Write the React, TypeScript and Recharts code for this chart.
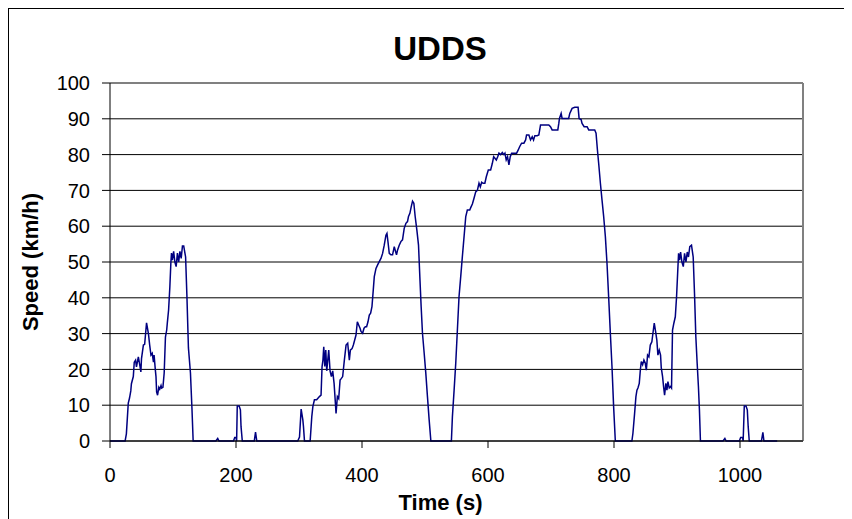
import React from 'react';
import { LineChart, Line, XAxis, YAxis, CartesianGrid, ReferenceLine } from 'recharts';

const timeSec: number[] = [
  0, 24, 26, 29, 31, 33, 34, 37, 38.5, 40.6, 42, 45, 47.5, 49, 50, 53, 55, 58, 61, 63, 65, 67, 69, 70, 72, 73, 74, 75.5, 77.5, 79, 81, 82, 84, 86, 88, 90, 91, 93, 95, 96.6, 97.6, 99, 101, 103, 105, 107, 109, 111, 113, 115, 117, 120, 122, 124.5, 127.7, 130, 132,
  168, 171, 173, 196, 198, 200, 201, 202, 205, 207, 208, 210, 229, 231, 233, 298, 300.8, 303.4, 306.1, 307.1, 308.7, 314,
  317.7, 320.3, 322, 324.5, 328, 332.4, 335, 336.6, 338, 339.3, 340.9, 342.5, 344, 347.2, 349.3, 351.4, 353.5, 355.7, 357.8, 358.8, 360.9, 363, 365.2, 367.3, 369.3, 372, 374.7, 377.3, 379.9, 381.5, 384.2, 386.3, 388.4, 390.5, 392.6, 394.7, 396.9, 398.4, 401, 403.2, 405.3, 407.3, 409.5, 411.6, 413.7, 415.8, 417.9, 419.5, 422.2, 424.8, 427.4, 430.1, 432.7, 435.3, 438, 439.6, 441.2, 443.3, 445.9, 448.5, 451.2, 452.7, 454.8, 456.4, 459.1, 461.7, 464.3, 467, 469.7, 472.2, 473.8, 476, 478.1, 480.2, 482.3, 484.4, 487.1, 489.7, 491.8, 493.9, 496, 498.7, 501.3, 503.9, 506.6, 509.3,
  541.9, 543.5, 546.2, 548.8, 551.4, 554, 556.7, 559.3, 562, 564.7, 567.2, 571, 573.1, 575.2, 577.8, 580.5, 583.1, 585.7, 587.8, 590, 592.1, 595, 597.3, 600.5, 604.2, 606.8, 609, 611, 613.2, 615.4, 617.4, 620, 622.7, 625.3, 626.9, 628.9, 631, 633.2, 635.3, 637.5, 641, 645.4, 648, 650.2, 653.3, 657, 659.7, 661.2, 664.9, 667.5, 670.2, 672.3, 674.4, 678, 680.7, 683.4, 687, 691.3, 696.5, 699.2, 701.8, 707.1, 710.8, 712.4, 713.4, 716.1, 717.6, 720.3, 725.6, 728, 729.8, 733.5, 737.7, 743, 744.6, 747.8, 749.3, 752.6, 757.3, 759.9, 769.4, 771.5, 773.7, 775.7, 778.4, 781, 783.6, 786.3, 788.9, 791.5, 794.2, 796.8, 799.4, 802.1,
  828.4, 830, 832.7, 834.8, 836.4, 838, 840.1, 841.8, 843.3, 845.4, 847.5, 849.7, 851.3, 853.3, 855.4, 857.6, 860.1, 861.8, 863.9, 866, 868, 869.7, 871.8, 873.9, 875, 877.1, 878.7, 880.3, 882.3, 884, 885.6, 887.7, 889.8, 891.3, 892.9, 895, 897.3, 899.3, 901, 902.5, 904.1, 905.7, 907.8, 910, 912, 914.2, 916.3, 918.2, 920.3, 923, 925.7, 927.8, 929.9, 932, 934, 935.6, 937.2,
  973, 976, 978, 999, 1001, 1004, 1005, 1006.8, 1009.5, 1011.6, 1013, 1014.7, 1034, 1036.3, 1038, 1059,
];

const speedKmh: number[] = [
  0, 0, 2, 10.6, 12, 14, 16, 18, 22, 22.6, 20.7, 23.5, 21, 19.3, 23, 26.8, 27, 33, 30, 26.8, 24, 24.5, 22, 24, 19.8, 18, 13.7, 12.8, 15, 14.5, 15.5, 14.8, 15, 19, 29, 31, 33, 36.6, 43, 49.7, 52.5, 50.5, 53, 50, 48.7, 52.5, 50, 53, 51, 54.5, 54.5, 51.4, 41, 26, 19, 9.5, 0,
  0, 0.7, 0, 0, 1, 1, 0, 9.8, 9.8, 8.7, 4, 0, 0, 2.5, 0, 0, 1.1, 8.9, 5.9, 4, 0, 0,
  0, 6.8, 9.6, 11.5, 11.5, 12.4, 12.8, 20.8, 22.6, 26.3, 20.8, 25.4, 19.6, 25.4, 19.6, 18, 19.6, 16.1, 10.5, 7.7, 12.4, 11.8, 17, 17.5, 18, 22.6, 26.8, 27.3, 22.6, 25.4, 25.8, 26.8, 28.2, 29.6, 33.3, 32.4, 31.5, 30.6, 30.1, 31.5, 31.9, 31.9, 33.3, 35.2, 35.7, 37.5, 42.2, 45.9, 48.2, 49.2, 50.1, 51, 52.4, 54.7, 57.5, 58, 55.7, 52.4, 52, 52, 54.3, 53.3, 52, 53.3, 54.7, 55.7, 56.2, 59.4, 60.8, 61.3, 62.7, 63.6, 65.4, 67, 66.4, 62.7, 58.9, 54.7, 45.9, 37.5, 30.1, 24.5, 18.9, 12.4, 5.9, 0,
  0, 6.8, 14.2, 21.7, 31, 40.3, 45.9, 51.5, 57.1, 62.7, 64.5, 64.5, 65.4, 66.2, 67.8, 69.6, 70, 72, 71, 72.3, 72, 72, 73.8, 75.7, 75.7, 77.5, 79.4, 79, 78.5, 79.4, 80.4, 80, 80.6, 80, 80.4, 78.5, 79.4, 77.1, 79.4, 80.4, 80.4, 80.4, 81.3, 82.2, 83.2, 83.2, 84.1, 85.5, 85.5, 84.1, 85, 84.1, 85.3, 85.3, 85.5, 88.3, 88.3, 88.3, 88.3, 87.8, 86.9, 86.9, 86.9, 88.7, 90.1, 91.5, 90.1, 90.1, 90.1, 90.1, 91.5, 92.9, 93.2, 93.2, 90.1, 89.8, 88.7, 87.8, 87.8, 86.9, 86.9, 86, 81.3, 77.5, 72, 67.3, 62.7, 57.1, 49.6, 40.3, 30.1, 20.8, 9.6, 0,
  0, 2.1, 7.7, 12.4, 14.2, 14.8, 16.1, 19.8, 22.2, 21.3, 22.6, 21.7, 19.8, 24, 23.5, 26.8, 27.7, 30.1, 32.9, 30.6, 28.2, 24, 25.4, 24, 20.5, 18, 15.2, 12.8, 16.1, 14.2, 16.6, 14.8, 15.2, 14.8, 31, 32.9, 34.7, 40.3, 46.8, 52.4, 50.5, 52.8, 50, 48.7, 52.4, 50, 52.8, 51.4, 54.3, 54.7, 51.4, 41.2, 29.1, 21.7, 15.2, 8.7, 0,
  0, 0.7, 0, 0, 1, 1, 0, 9.8, 9.8, 8.7, 4, 0, 0, 2.4, 0, 0,
];

const xTicks: number[] = [0, 200, 400, 600, 800, 1000];
const yTicks: number[] = [0, 10, 20, 30, 40, 50, 60, 70, 80, 90, 100];

const chartTitle = 'UDDS';
const xTitle = 'Time (s)';
const yTitle = 'Speed (km/h)';

const data = timeSec.map((t, i) => ({ t, v: speedKmh[i] }));

const FONT = '"Liberation Sans", Arial, sans-serif';

const YLabel = (props: any) => {
  const vb = props.viewBox || { x: 0, y: 0, width: 0, height: 0 };
  const cx = vb.x + 21;
  const cy = vb.y + vb.height / 2;
  return (
    <text
      x={cx}
      y={cy}
      transform={`rotate(-90 ${cx} ${cy})`}
      textAnchor="middle"
      dominantBaseline="central"
      fontFamily={FONT}
      fontSize={22}
      fontWeight="bold"
      fill="#000"
    >
      {yTitle}
    </text>
  );
};

const XLabel = (props: any) => {
  const vb = props.viewBox || { x: 0, y: 0, width: 0, height: 0 };
  const cx = vb.x + vb.width / 2 - 16;
  const by = vb.y + vb.height - 9;
  return (
    <text x={cx} y={by} textAnchor="middle" fontFamily={FONT} fontSize={22} fontWeight="bold" fill="#000">
      {xTitle}
    </text>
  );
};

export default function App() {
  return (
    <div
      style={{
        position: 'relative',
        width: 843,
        height: 510,
        borderTop: '1px solid #000',
        borderLeft: '1px solid #000',
        overflow: 'hidden',
        background: '#fff',
      }}
    >
      <div
        style={{
          position: 'absolute',
          left: 0,
          top: 23,
          width: 862,
          textAlign: 'center',
          fontFamily: FONT,
          fontWeight: 'bold',
          fontSize: 33,
          lineHeight: '33px',
          color: '#000',
        }}
      >
        {chartTitle}
      </div>
      <LineChart width={843} height={510} data={data} margin={{ top: 74, right: 49, bottom: 0, left: 0 }}>
        <CartesianGrid horizontal vertical={false} stroke="#000" strokeWidth={1} />
        <XAxis
          type="number"
          dataKey="t"
          domain={[0, 1100]}
          ticks={xTicks}
          height={78}
          tickSize={7}
          tickMargin={20}
          stroke="#000"
          tick={{ fill: '#000', fontSize: 20, fontFamily: FONT }}
          label={<XLabel />}
          allowDataOverflow
        />
        <YAxis
          type="number"
          domain={[0, 100]}
          ticks={yTicks}
          width={101}
          tickSize={8}
          tickMargin={12}
          stroke="#000"
          tick={{ fill: '#000', fontSize: 20, fontFamily: FONT }}
          label={<YLabel />}
          interval={0}
        />
        <ReferenceLine y={100} stroke="#808080" strokeWidth={2} />
        <ReferenceLine x={1100} stroke="#808080" strokeWidth={2} />
        <Line
          type="linear"
          dataKey="v"
          stroke="#000080"
          strokeWidth={1.5}
          dot={false}
          isAnimationActive={false}
        />
      </LineChart>
    </div>
  );
}
